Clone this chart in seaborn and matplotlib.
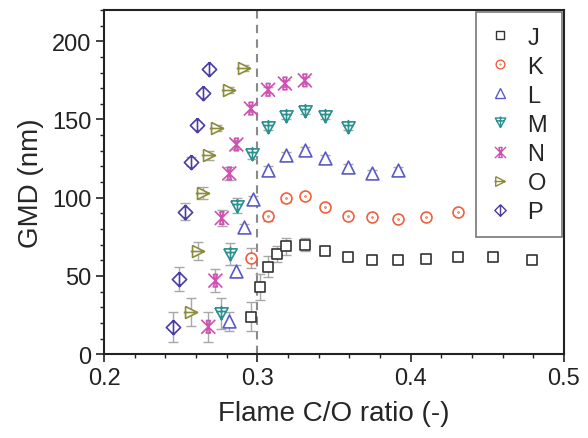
import numpy as np
import matplotlib
matplotlib.use("Agg")
import matplotlib.pyplot as plt
from matplotlib.path import Path
from matplotlib.lines import Line2D
import seaborn as sns

# Flame C/O ratio and GMD (nm) with symmetric error for each flame series
j_x = [0.296, 0.302, 0.307, 0.313, 0.319, 0.331, 0.344, 0.359, 0.375, 0.392, 0.410, 0.431, 0.454, 0.479]
j_y = [24, 43, 56, 64, 69, 70, 66, 62, 60, 60, 61, 62, 62, 60.5]
j_e = [9.5, 8.5, 6.5, 5, 5.5, 4, 2, 2, 2, 2, 2, 2, 2, 2]

k_x = [0.296, 0.307, 0.319, 0.331, 0.344, 0.359, 0.375, 0.392, 0.410, 0.431]
k_y = [61.5, 88, 99.5, 101, 94, 88.5, 87.5, 86.5, 87.5, 91]
k_e = [6.5, 3, 2, 2, 2, 2, 2, 2, 2, 2]

l_x = [0.2815, 0.2863, 0.2915, 0.297, 0.307, 0.319, 0.331, 0.344, 0.359, 0.375, 0.392]
l_y = [21, 53, 81, 99, 118, 127, 130.5, 125.5, 119.5, 116, 117.5]
l_e = [6, 4, 2, 2, 2, 2, 2, 2, 2, 2, 2]

m_x = [0.276, 0.282, 0.2865, 0.2965, 0.307, 0.319, 0.331, 0.344, 0.359]
m_y = [26, 64, 95, 128, 145, 152, 155.5, 152, 145]
m_e = [10, 7, 5, 3, 2, 2, 2, 2, 2]

n_x = [0.268, 0.2726, 0.2768, 0.2817, 0.2863, 0.2958, 0.307, 0.318, 0.331]
n_y = [17.5, 47, 87, 115.5, 134, 157, 169, 173, 175]
n_e = [9.5, 7.5, 5, 4, 3, 2, 2, 2, 2]

o_x = [0.257, 0.261, 0.2645, 0.2687, 0.2735, 0.2817, 0.2915]
o_y = [27, 66, 103, 127, 144.5, 169, 183]
o_e = [9, 6, 4, 3, 2, 2, 2]

p_x = [0.245, 0.249, 0.253, 0.2565, 0.2605, 0.2645, 0.2685]
p_y = [17.5, 48, 91, 123, 146.5, 167, 182.5]
p_e = [9.5, 7.5, 5.5, 3, 2, 2, 2]

series_names = ["J", "K", "L", "M", "N", "O", "P"]


def line_path(segments, closed=()):
    """Build a line-art marker from lists of points."""
    verts, codes = [], []
    for i, seg in enumerate(segments):
        pts = list(seg)
        if i in closed:
            pts = pts + [pts[0]]
        verts.extend(pts)
        codes.extend([Path.MOVETO] + [Path.LINETO] * (len(pts) - 1))
    return Path(verts, codes)


circle_dot = Path.make_compound_path(
    Path.unit_circle(),
    Path(Path.unit_circle().vertices * 0.08, Path.unit_circle().codes),
)
tri_down_plus = line_path(
    [[(-1, 0.85), (1, 0.85), (0, -0.95)],
     [(0, 1.15), (0, -0.95)],
     [(-0.75, 0.3), (0.75, 0.3)]],
    closed=(0,),
)
x_star = line_path(
    [[(-1, -1), (1, 1)],
     [(-1, 1), (1, -1)],
     [(-0.3, 0.9), (0.3, 0.9), (-0.3, -0.9), (0.3, -0.9), (-0.3, 0.9)]],
)
tri_right_bar = line_path(
    [[(-1, 1), (1, 0), (-1, -1)],
     [(-1.3, 0), (1, 0)]],
    closed=(0,),
)
diamond_bar = line_path(
    [[(0, 1), (1, 0), (0, -1), (-1, 0)],
     [(0, 1), (0, -1)]],
    closed=(0,),
)

styles = {
    "J": dict(x=j_x, y=j_y, e=j_e, color="#333333", marker="s", s=46),
    "K": dict(x=k_x, y=k_y, e=k_e, color="#f0603c", marker=circle_dot, s=62),
    "L": dict(x=l_x, y=l_y, e=l_e, color="#5a5ac8", marker="^", s=85),
    "M": dict(x=m_x, y=m_y, e=m_e, color="#2a9090", marker=tri_down_plus, s=120),
    "N": dict(x=n_x, y=n_y, e=n_e, color="#d050b4", marker=x_star, s=100),
    "O": dict(x=o_x, y=o_y, e=o_e, color="#8c8c3c", marker=tri_right_bar, s=125),
    "P": dict(x=p_x, y=p_y, e=p_e, color="#4a3ca0", marker=diamond_bar, s=105),
}
closed_shapes = {"J", "K", "L", "M", "O", "P"}

sns.set_theme(style="ticks")
plt.rcParams["font.family"] = ["Liberation Sans", "DejaVu Sans"]
plt.rcParams["axes.edgecolor"] = "#222222"

fig = plt.figure(figsize=(5.88, 4.39), dpi=100)
ax = fig.add_axes([0.177, 0.191, 0.782, 0.784])

ax.axvline(0.3, color="#8a8a8a", lw=1.5, ls=(0, (4, 3)), zorder=1)

for name in series_names:
    st = styles[name]
    ax.errorbar(st["x"], st["y"], yerr=st["e"], fmt="none", ecolor="#a8a8a8",
                elinewidth=1.0, capsize=3.5, capthick=1.0, zorder=2)
    face = "white" if name in closed_shapes else "none"
    sns.scatterplot(x=st["x"], y=st["y"], marker=st["marker"], s=st["s"],
                    color=st["color"], facecolor=face, edgecolor=st["color"],
                    linewidth=1.2, ax=ax, zorder=3, legend=False)

ax.set_xlim(0.2, 0.5)
ax.set_ylim(0, 220)
ax.set_xticks([0.2, 0.3, 0.4, 0.5])
ax.set_xticklabels(["0.2", "0.3", "0.4", "0.5"])
ax.set_xticks(np.arange(0.22, 0.5, 0.02), minor=True)
ax.set_yticks([0, 50, 100, 150, 200])
ax.set_yticks(np.arange(0, 221, 10), minor=True)

ax.tick_params(axis="both", which="major", direction="out", length=6, width=1.2,
               labelsize=17, colors="#222222", pad=3)
ax.tick_params(axis="both", which="minor", direction="out", length=3, width=1.0,
               colors="#222222")
for sp in ax.spines.values():
    sp.set_linewidth(1.5)
    sp.set_visible(True)

ax.set_xlabel("Flame C/O ratio (-)", fontsize=20, labelpad=8)
ax.set_ylabel("GMD (nm)", fontsize=20, labelpad=6)

handles = []
for name in series_names:
    st = styles[name]
    handles.append(Line2D([], [], linestyle="none", marker=st["marker"],
                          markersize=np.sqrt(st["s"]) * 0.8,
                          markerfacecolor="none", markeredgecolor=st["color"],
                          markeredgewidth=1.0))
leg = ax.legend(handles, series_names, loc="upper right", bbox_to_anchor=(1.0, 1.0),
                fontsize=17, frameon=True, fancybox=False, framealpha=1,
                edgecolor="#777777", borderaxespad=0.1, labelspacing=0.3,
                handletextpad=0.7, handlelength=0.9, borderpad=0.6)
leg.get_frame().set_linewidth(1.2)

fig.savefig("out.png", dpi=100)
